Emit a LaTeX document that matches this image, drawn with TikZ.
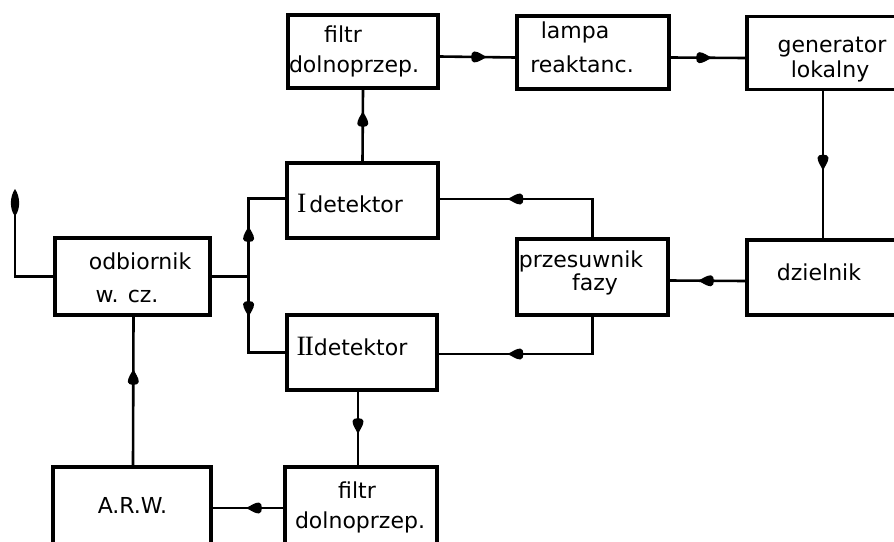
\documentclass[tikz,border=0pt]{standalone}
\usepackage{fontspec}
\setmainfont{DejaVu Sans}
\newfontfamily\romfont{Liberation Serif}
\usetikzlibrary{decorations.markings,calc}

\tikzset{
  blok/.style={draw, line width=3.2pt, inner sep=0pt},
  lbl/.style={anchor=base, inner sep=0pt, font=\fontsize{22}{26}\selectfont},
  conn/.style={line width=2.6pt},
  % filled drop-shaped arrowhead placed along a connector
  midarrow/.style={postaction={decorate},
    decoration={markings, mark=at position #1 with {
      \fill (1.5pt,0pt) .. controls (-3pt,1.8pt) and (-7pt,5.5pt) .. (-11.5pt,5.5pt)
            .. controls (-15.5pt,5.5pt) and (-15.5pt,-5.5pt) .. (-11.5pt,-5.5pt)
            .. controls (-7pt,-5.5pt) and (-3pt,-1.8pt) .. (1.5pt,0pt) -- cycle;}}}
}

\newcommand{\rnum}[1]{{\romfont\fontsize{28}{28}\selectfont #1}}

\begin{document}
\begin{tikzpicture}[x=1pt,y=-1pt]
\useasboundingbox (0,0) rectangle (894,541);
\clip (0,0) rectangle (894,541);

% blocks
\node[blok, minimum width=150pt, minimum height=73pt] (ftop)  at (363,51.5) {};
\node[blok, minimum width=152pt, minimum height=73pt] (lampa) at (593,52.5) {};
\node[blok, minimum width=152pt, minimum height=73pt] (gen)   at (823,53)   {};
\node[blok, minimum width=151pt, minimum height=75pt] (idet)  at (362.5,200.5) {};
\node[blok, minimum width=151pt, minimum height=76pt] (prz)   at (592.5,277) {};
\node[blok, minimum width=152pt, minimum height=75pt] (dz)    at (823,277.5) {};
\node[blok, minimum width=155pt, minimum height=77pt] (odb)   at (132.5,276.5) {};
\node[blok, minimum width=150pt, minimum height=75pt] (iidet) at (362,352.5) {};
\node[blok, minimum width=152pt, minimum height=78pt] (fbot)  at (361,506) {};
\node[blok, minimum width=158pt, minimum height=78pt] (arw)   at (132,506) {};

% labels
\node[lbl] (ftop1) at (343,42)  {filtr};
\node[lbl] (ftop2) at (354,72)  {dolnoprzep.};
\node[lbl] (lam1)  at (575,38)  {lampa};
\node[lbl] (lam2)  at (582,72)  {reaktanc.};
\node[lbl] (gen1)  at (832,52)  {generator};
\node[lbl] (gen2)  at (830,77)  {lokalny};
\node[lbl] (idt1)  at (350,212) {\rnum{I}\kern3pt detektor};
\node[lbl] (prz1)  at (581,267) {przesuwnik};
\node[lbl] (prz2)  at (595,290) {fazy};
\node[lbl] (dz1)   at (819,280) {dzielnik};
\node[lbl] (odb1)  at (140,269) {odbiornik};
\node[lbl] (odb2)  at (127,302) {w. cz.};
\node[lbl] (iidt1) at (352,355) {\rnum{I\kern-1.5pt I}detektor};
\node[lbl] (arw1)  at (132.5,513) {A.R.W.};
\node[lbl] (fbot1) at (357,498) {filtr};
\node[lbl] (fbot2) at (360,528) {dolnoprzep.};

% signal paths
\draw[conn, midarrow=46pt] ([yshift=-5pt]ftop.east) -- ([yshift=-5pt]lampa.west);
\draw[conn, midarrow=40pt] ([yshift=-5pt]lampa.east) -- ([yshift=-5pt]gen.west);
\draw[conn, midarrow=78pt] (gen.south) -- (dz.north);
\draw[conn, midarrow=46pt] ([yshift=-3.5pt]dz.west) -- ([yshift=-3.5pt]prz.east);
\draw[conn, midarrow=122pt] (prz.north) |- ([yshift=1.5pt]idet.east);
\draw[conn, midarrow=121pt] (prz.south) |- ([yshift=-1.5pt]iidet.east);

\coordinate (J) at ([xshift=37pt]odb.east);
\draw[conn] (odb.east) -- (J);
\draw[conn, midarrow=49pt] (J) |- ([yshift=2pt]idet.west);
\draw[conn, midarrow=39pt] (J) |- (iidet.west);

\draw[conn, midarrow=49pt] (idet.north) -- (ftop.south);
\draw[conn, midarrow=41pt] ([xshift=-4pt]iidet.south) -- ([xshift=-3pt]fbot.north);
\draw[conn, midarrow=36pt] ([yshift=-2pt]fbot.west) -- ([yshift=-2pt]arw.east);
\draw[conn, midarrow=95pt] ([xshift=1pt]arw.north) -- ([xshift=1pt]odb.south);

% aerial
\coordinate (ant) at (15,214);
\draw[conn] (odb.west) -| (ant);
\fill (15,189) .. controls (20,196) and (21,209) .. (15,216)
      .. controls (9,209) and (10,196) .. (15,189) -- cycle;
\end{tikzpicture}
\end{document}
